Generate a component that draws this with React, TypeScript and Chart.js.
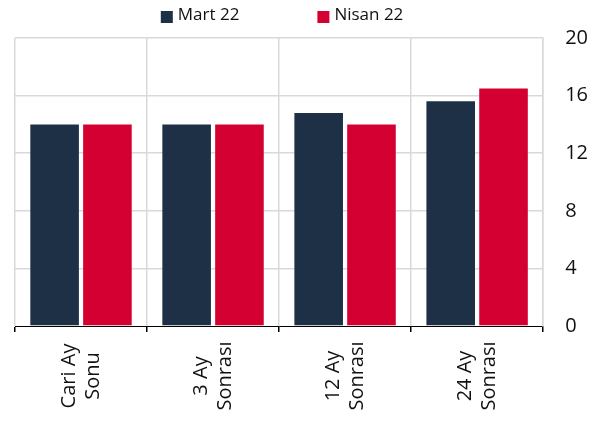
import React, { useEffect, useRef } from "react";
import { Chart, registerables } from "chart.js";

Chart.register(...registerables);

const categories: string[][] = [
  ["Cari Ay", "Sonu"],
  ["3 Ay", "Sonrası"],
  ["12 Ay", "Sonrası"],
  ["24 Ay", "Sonrası"],
];
const seriesNames = ["Mart 22", "Nisan 22"];
const martValues = [14, 14, 14.8, 15.6];
const nisanValues = [14, 14, 14, 16.5];
const yTicks = [0, 4, 8, 12, 16, 20];

const NAVY = "#1e3046";
const RED = "#d50032";
const GRID = "#d9d9d9";
const FONT = '"Open Sans", "Noto Sans", sans-serif';

const xLabelPlugin = {
  id: "xLabelPlugin",
  afterDraw(chart: any) {
    const sc = chart.scales.x;
    const ctx = chart.ctx;
    ctx.save();
    ctx.font = `20px ${FONT}`;
    ctx.fillStyle = "#111";
    ctx.textAlign = "center";
    ctx.textBaseline = "middle";
    const lineH = 24;
    categories.forEach((lines, i) => {
      const x = sc.getPixelForValue(i);
      const cy = chart.chartArea.bottom + 50;
      ctx.save();
      ctx.translate(x, cy);
      ctx.rotate(-Math.PI / 2);
      lines.forEach((ln, j) => {
        ctx.fillText(ln, 0, (j - (lines.length - 1) / 2) * lineH);
      });
      ctx.restore();
    });
    ctx.restore();
  },
};

const legendPlugin = {
  id: "legendPlugin",
  afterDraw(chart: any) {
    const ctx = chart.ctx;
    ctx.save();
    ctx.font = `17px ${FONT}`;
    ctx.textBaseline = "middle";
    ctx.textAlign = "left";
    const box = 12;
    const gapText = 5;
    const gapItem = 78;
    const ds = chart.data.datasets;
    const widths = ds.map((d: any) => box + gapText + ctx.measureText(d.label).width);
    const total = widths.reduce((a: number, b: number) => a + b, 0) + gapItem * (ds.length - 1);
    const cx = (chart.chartArea.left + chart.chartArea.right) / 2 + 3;
    let x = cx - total / 2;
    const cy = 15;
    ds.forEach((d: any, i: number) => {
      ctx.fillStyle = d.backgroundColor;
      ctx.fillRect(x, 11, box, box);
      ctx.fillStyle = "#111";
      ctx.fillText(d.label, x + box + gapText, cy);
      x += widths[i] + gapItem;
    });
    ctx.restore();
  },
};

export default function App() {
  const ref = useRef<HTMLCanvasElement>(null);
  useEffect(() => {
    if (!ref.current) return;
    Chart.defaults.font.family = FONT;
    const chart = new Chart(ref.current, {
      type: "bar",
      data: {
        labels: categories,
        datasets: [
          { label: seriesNames[0], data: martValues, backgroundColor: NAVY, categoryPercentage: 0.8, barPercentage: 0.92 },
          { label: seriesNames[1], data: nisanValues, backgroundColor: RED, categoryPercentage: 0.8, barPercentage: 0.92 },
        ],
      },
      options: {
        responsive: false,
        animation: false,
        layout: { padding: { left: 15, right: 5, top: 38, bottom: 91 } },
        plugins: { legend: { display: false }, tooltip: { enabled: false } },
        scales: {
          x: {
            offset: true,
            grid: { offset: true, color: GRID, tickColor: "#000", tickLength: 6, lineWidth: 1.5 },
            border: { display: true, color: "#000", width: 1 },
            ticks: { display: false },
          },
          y: {
            position: "right",
            min: 0,
            max: 20,
            afterBuildTicks: (axis: any) => {
              axis.ticks = yTicks.map((v) => ({ value: v }));
            },
            grid: {
              color: (c: any) => (c.tick && c.tick.value === 0 ? "rgba(0,0,0,0)" : GRID),
              drawTicks: false,
              lineWidth: 1.5,
            },
            border: { display: true, color: GRID, width: 1.5 },
            ticks: { padding: 22, color: "#111", font: { size: 20 } },
          },
        },
      },
      plugins: [xLabelPlugin, legendPlugin],
    });
    return () => chart.destroy();
  }, []);
  return (
    <div style={{ position: "absolute", left: 0, top: 0, width: 615, height: 423 }}>
      <canvas ref={ref} width={615} height={423} style={{ display: "block" }} />
    </div>
  );
}
